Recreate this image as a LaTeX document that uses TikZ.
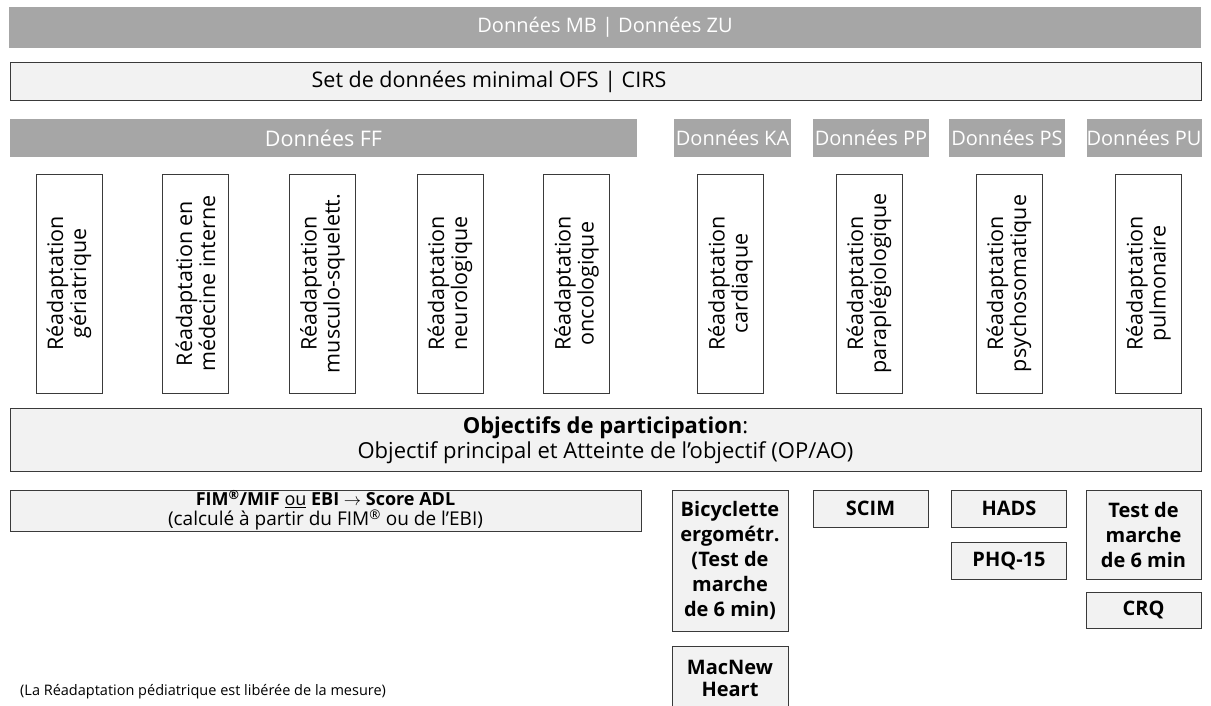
\documentclass[tikz,border=0pt]{standalone}
\usepackage{fontspec}
\setmainfont{Open Sans}
\definecolor{barg}{HTML}{A6A6A6}
\definecolor{lightg}{HTML}{F2F2F2}
\definecolor{edge}{HTML}{3A3A3A}
\begin{document}
\begin{tikzpicture}[x=1pt,y=-1pt,
  graybar/.style={fill=barg, draw=none, text=white, inner sep=0pt,
    font=\fontsize{20}{24}\selectfont},
  lightbox/.style={fill=lightg, draw=edge, line width=0.9pt, inner sep=0pt, align=center,
    font=\fontsize{20}{25}\selectfont},
  vbox/.style={fill=white, draw=edge, line width=0.9pt, inner sep=0pt, rotate=90,
    minimum width=219pt, minimum height=66pt, align=center,
    font=\fontsize{21.5}{23}\selectfont},
  measbox/.style={fill=lightg, draw=edge, line width=0.9pt, inner sep=0pt, align=center,
    font=\bfseries\fontsize{20}{25}\selectfont},
  plain/.style={inner sep=0pt, align=center}
]
\useasboundingbox (0,0) rectangle (1211,706);
\clip (0,0) rectangle (1211,706);

% top bars
\node[graybar, minimum width=1192pt, minimum height=41pt] (mbzu) at (605,27.5) {Données MB | Données ZU};
\node[lightbox, minimum width=1191pt, minimum height=38pt] (ofs) at (605.5,81.5) {};
\node[plain, font=\fontsize{21.5}{24}\selectfont] (ofst) at (489,81.5) {Set de données minimal OFS | CIRS};

% data headers
\node[graybar, minimum width=627pt, minimum height=38pt, font=\fontsize{21.5}{24}\selectfont] (ff) at (323.5,138) {Données FF};
\node[graybar, minimum width=117pt, minimum height=38pt] (ka) at (732.5,138) {Données KA};
\node[graybar, minimum width=116pt, minimum height=38pt] (pp) at (871,138) {Données PP};
\node[graybar, minimum width=116pt, minimum height=38pt] (ps) at (1007,138) {Données PS};
\node[graybar, minimum width=114pt, minimum height=38pt] (pu) at (1144,138) {Données PU};

% vertical boxes
\node[vbox] (r1) at (69,283.5) {Réadaptation\\gériatrique};
\node[vbox] (r2) at (195.5,283.5) {Réadaptation en\\médecine interne};
\node[vbox] (r3) at (322.5,283.5) {Réadaptation\\musculo-squelett.};
\node[vbox] (r4) at (450,283.5) {Réadaptation\\neurologique};
\node[vbox] (r5) at (576.5,283.5) {Réadaptation\\oncologique};
\node[vbox] (r6) at (730.5,283.5) {Réadaptation\\cardiaque};
\node[vbox] (r7) at (869,283.5) {Réadaptation\\paraplégiologique};
\node[vbox] (r8) at (1009,283.5) {Réadaptation\\psychosomatique};
\node[vbox] (r9) at (1148.5,283.5) {Réadaptation\\pulmonaire};

% objectives
\node[lightbox, minimum width=1191pt, minimum height=63pt, font=\fontsize{22}{24.5}\selectfont] (obj) at (605.5,440)
  {\textbf{Objectifs de participation}:\\Objectif principal et Atteinte de l’objectif (OP/AO)};

% measurement boxes
\node[lightbox, minimum width=631pt, minimum height=41pt, font=\fontsize{19}{20}\selectfont] (fim) at (325.5,510.5)
  {{\fontsize{18}{20}\selectfont\textbf{FIM\textsuperscript{®}/MIF} \underline{ou} \textbf{EBI} $\rightarrow$ \textbf{Score ADL}}\\(calculé à partir du FIM\textsuperscript{®} ou de l’EBI)};
\node[measbox, minimum width=116pt, minimum height=141pt] (bic) at (730,560.5)
  {Bicyclette\\ergométr.\\(Test de\\marche\\de 6 min)};
\node[measbox, minimum width=116pt, minimum height=80pt] (mac) at (730,686) {};
\node[plain, font=\bfseries\fontsize{20}{22}\selectfont] (mact) at (730,678) {MacNew\\Heart};
\node[measbox, minimum width=115pt, minimum height=37pt] (scim) at (870.5,508.5) {SCIM};
\node[measbox, minimum width=115pt, minimum height=37pt] (hads) at (1009,508.5) {HADS};
\node[measbox, minimum width=115pt, minimum height=37pt] (phq) at (1009,560.5) {PHQ-15};
\node[measbox, minimum width=115pt, minimum height=89pt] (walk) at (1143.5,534.5) {Test de\\marche\\de 6 min};
\node[measbox, minimum width=115pt, minimum height=36pt] (crq) at (1143.5,610) {CRQ};

% footnote
\node[plain, anchor=west, font=\fontsize{14.5}{17}\selectfont] (note) at (20,692)
  {(La Réadaptation pédiatrique est libérée de la mesure)};
\end{tikzpicture}
\end{document}
